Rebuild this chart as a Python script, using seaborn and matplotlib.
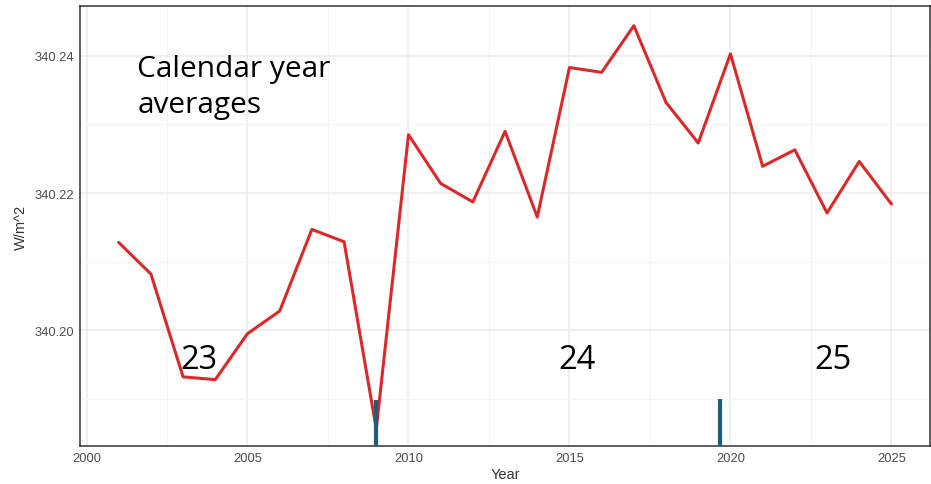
import numpy as np
import pandas as pd
import seaborn as sns
import matplotlib.pyplot as plt
from matplotlib.ticker import MultipleLocator

# calendar year averages (W/m^2)
years = list(range(2001, 2026))
values = [340.2128, 340.2082, 340.1932, 340.1928, 340.1995, 340.2028, 340.2147,
          340.2129, 340.1856, 340.2285, 340.2214, 340.2187, 340.2290, 340.2165,
          340.2383, 340.2376, 340.2444, 340.2332, 340.2273, 340.2403, 340.2239,
          340.2263, 340.2171, 340.2246, 340.2184]

# blue markers at the bottom
mark_x = [2009.0, 2019.66]
mark_top = [340.1898, 340.1900]

# cycle labels
cycle_labels = ['23', '24', '25']
cycle_x = [2003.5, 2015.25, 2023.2]
cycle_y = 340.1958

df = pd.DataFrame({'Year': years, 'W/m^2': values})

sns.set_theme(style='whitegrid')
plt.rcParams['font.family'] = ['Liberation Sans', 'DejaVu Sans']

fig = plt.figure(figsize=(9.31, 4.85), dpi=100)
ax = fig.add_axes([0.086, 0.078, 0.913, 0.908])

sns.lineplot(data=df, x='Year', y='W/m^2', color='#d9292b', linewidth=2.2, ax=ax, zorder=3)
ax.vlines(mark_x, 340.1831, mark_top, color='#1b5e80', linewidth=3, zorder=4)

ax.set_xlim(1999.8, 2026.2)
ax.set_ylim(340.1831, 340.2473)
ax.xaxis.set_major_locator(MultipleLocator(5))
ax.xaxis.set_minor_locator(MultipleLocator(2.5))
ax.yaxis.set_major_locator(MultipleLocator(0.02))
ax.yaxis.set_minor_locator(MultipleLocator(0.01))
ax.yaxis.set_major_formatter(plt.FuncFormatter(lambda v, p: f'{v:.2f}'))

ax.grid(which='major', color='#ebebeb', linewidth=1.1)
ax.grid(which='minor', color='#f4f4f4', linewidth=0.8)
for s in ax.spines.values():
    s.set_visible(True)
    s.set_color('#333333')
    s.set_linewidth(1.1)

ax.tick_params(axis='both', which='major', labelsize=9.3, labelcolor='#4d4d4d', length=0, pad=4)
ax.set_xlabel('Year', fontsize=10.5, color='#333333', labelpad=2)
ax.set_ylabel('W/m^2', fontsize=10.5, color='#333333', labelpad=5)

for lab, x in zip(cycle_labels, cycle_x):
    ax.text(x, cycle_y, lab, fontsize=23.5, family=['Open Sans', 'DejaVu Sans'],
            ha='center', va='center', color='black', zorder=5)

ax.text(2001.58, 340.2355, 'Calendar year\naverages', fontsize=21.5,
        family=['Open Sans', 'DejaVu Sans'], ha='left', va='center',
        linespacing=1.3, color='black', zorder=5)

fig.savefig('out.png', dpi=100)
